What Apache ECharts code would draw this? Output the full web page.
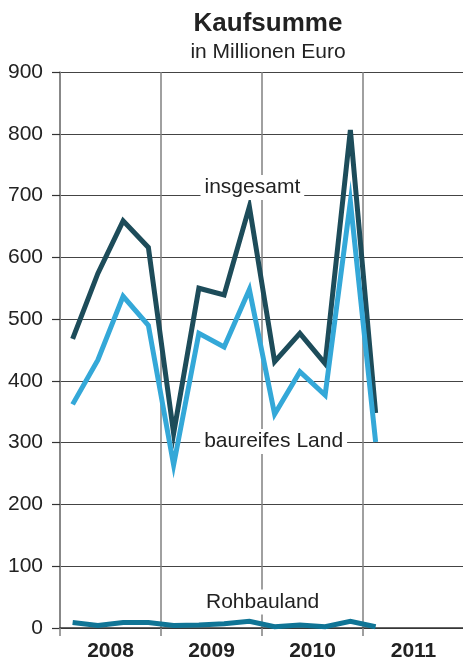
<!DOCTYPE html>
<html>
<head>
<meta charset="utf-8">
<script src="https://cdn.jsdelivr.net/npm/echarts@6/dist/echarts.min.js"></script>
<style>
  html, body { margin: 0; padding: 0; background: #fff; overflow: hidden; }
  #chart-container { width: 468px; height: 671px; }
</style>
</head>
<body>
<div id="chart-container"></div>
<script>
var quarters = [
  '2008 Q1', '2008 Q2', '2008 Q3', '2008 Q4',
  '2009 Q1', '2009 Q2', '2009 Q3', '2009 Q4',
  '2010 Q1', '2010 Q2', '2010 Q3', '2010 Q4',
  '2011 Q1', '2011 Q2', '2011 Q3', '2011 Q4'
];
var years = ['2008', '2009', '2010', '2011'];
var insgesamt = [468, 574, 659, 616, 315, 550, 539, 682, 431, 477, 428, 806, 348];
var baureifesLand = [362, 434, 537, 490, 264, 477, 455, 548, 346, 415, 377, 690, 301];
var rohbauland = [9, 4, 9, 9, 4, 5, 7, 11, 2, 5, 2, 11, 2];
var yTicks = [0, 900, 100];

var dom = document.getElementById('chart-container');
var myChart = echarts.init(dom, null, { renderer: 'canvas' });

var textColor = '#222';
var fontFamily = '"Liberation Sans", Arial, sans-serif';

function seriesLabel(text, coord, offset) {
  return {
    symbol: 'circle',
    symbolSize: 0,
    silent: true,
    itemStyle: { color: 'rgba(0,0,0,0)' },
    data: [{
      coord: coord,
      label: {
        show: true,
        position: 'inside',
        offset: offset || [0, 0],
        formatter: text,
        color: textColor,
        fontSize: 21,
        fontFamily: fontFamily,
        backgroundColor: '#fff',
        padding: [2, 4]
      }
    }]
  };
}

function lineSeries(name, values, color) {
  return {
    name: name,
    type: 'line',
    xAxisIndex: 0,
    data: values,
    symbol: 'none',
    silent: true,
    lineStyle: { color: color, width: 5, join: 'miter' },
    itemStyle: { color: color },
    z: 3
  };
}

var s1 = lineSeries('insgesamt', insgesamt, '#1d4c5a');
s1.markPoint = seriesLabel('insgesamt', ['2009 Q4', 713], [3, 0]);
var s2 = lineSeries('baureifes Land', baureifesLand, '#34a8d8');
s2.markPoint = seriesLabel('baureifes Land', ['2010 Q1', 302], [-1, 0]);
var s3 = lineSeries('Rohbauland', rohbauland, '#107596');
s3.markPoint = seriesLabel('Rohbauland', ['2010 Q1', 42], [-12, 0]);

var option = {
  animation: false,
  backgroundColor: '#fff',
  title: {
    text: 'Kaufsumme',
    subtext: 'in Millionen Euro',
    left: 263,
    top: 6,
    textAlign: 'center',
    itemGap: 5,
    textStyle: { fontSize: 26, fontWeight: 'bold', color: textColor, fontFamily: fontFamily },
    subtextStyle: { fontSize: 21, color: textColor, fontFamily: fontFamily }
  },
  grid: { left: 60, right: 4, top: 72, bottom: 43, containLabel: false },
  xAxis: [
    {
      type: 'category',
      data: quarters,
      boundaryGap: true,
      show: false
    },
    {
      type: 'category',
      data: years,
      position: 'bottom',
      boundaryGap: true,
      axisLine: { show: true, lineStyle: { color: '#333', width: 1.5 } },
      axisTick: { show: true, length: 8, lineStyle: { color: '#808080', width: 1.5 } },
      splitLine: { show: true, lineStyle: { color: '#808080', width: 1.5 } },
      axisLabel: {
        margin: 13,
        fontSize: 21,
        fontWeight: 'bold',
        color: textColor,
        fontFamily: fontFamily
      }
    }
  ],
  yAxis: {
    type: 'value',
    min: yTicks[0],
    max: yTicks[1],
    interval: yTicks[2],
    axisLine: { show: true, lineStyle: { color: '#808080', width: 1.5 } },
    axisTick: { show: true, length: 8, lineStyle: { color: '#333', width: 1.2 } },
    splitLine: { show: true, lineStyle: { color: '#444', width: 1.2 } },
    axisLabel: {
      margin: 17,
      fontSize: 21,
      color: textColor,
      fontFamily: fontFamily
    }
  },
  series: [s1, s2, s3]
};

myChart.setOption(option);
window.addEventListener('resize', myChart.resize);
</script>
</body>
</html>
